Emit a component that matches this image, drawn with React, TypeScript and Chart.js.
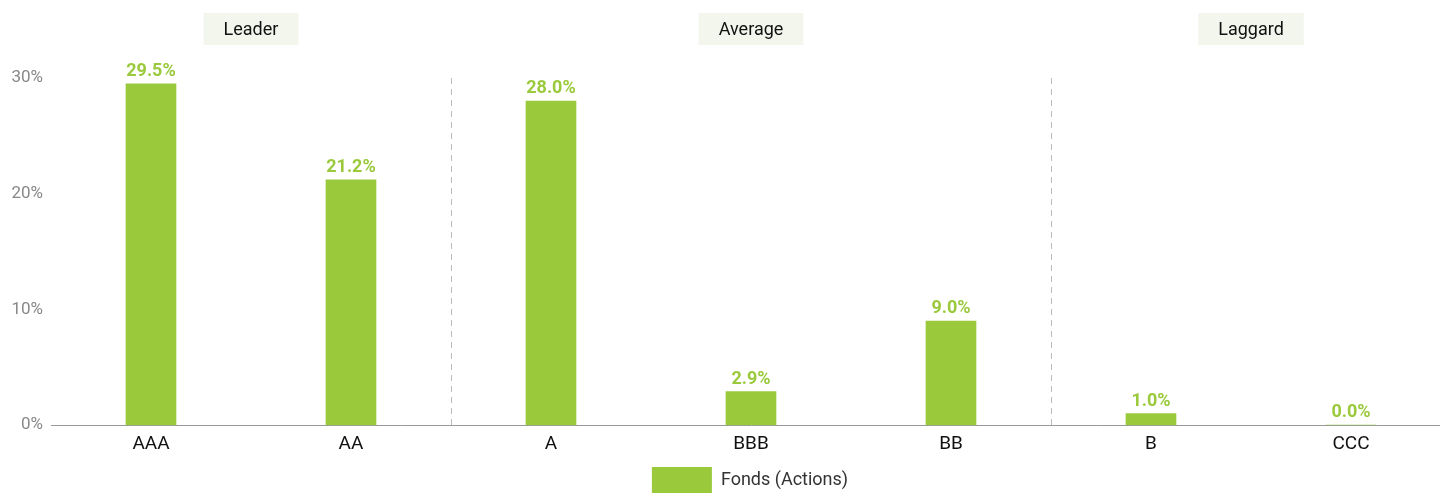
import React, { useEffect, useRef } from "react";
import { Chart, registerables } from "chart.js";

Chart.register(...registerables);

const categories = ["AAA", "AA", "A", "BBB", "BB", "B", "CCC"];
const fundValues = [29.5, 21.2, 28.0, 2.9, 9.0, 1.0, 0.0];
const seriesName = "Fonds (Actions)";
const groupLabels = ["Leader", "Average", "Laggard"];
const groupRanges = [[0, 1], [2, 4], [5, 6]];
const yTicks = [0, 10, 20, 30];

const GREEN = "#9ACA3C";
const FONT = "Roboto, sans-serif";

const overlay = {
  id: "overlay",
  afterDatasetsDraw(chart: any) {
    const { ctx, chartArea, scales } = chart;
    const x = scales.x;
    const y = scales.y;
    ctx.save();
    ctx.strokeStyle = "#bbbbbb";
    ctx.lineWidth = 1;
    ctx.setLineDash([6, 5]);
    for (let g = 0; g < groupRanges.length - 1; g++) {
      const a = x.getPixelForValue(groupRanges[g][1]);
      const b = x.getPixelForValue(groupRanges[g + 1][0]);
      const px = Math.round((a + b) / 2) + 0.5;
      ctx.beginPath();
      ctx.moveTo(px, chartArea.top);
      ctx.lineTo(px, chartArea.bottom);
      ctx.stroke();
    }
    ctx.setLineDash([]);
    ctx.font = "18px " + FONT;
    ctx.textAlign = "center";
    ctx.textBaseline = "middle";
    groupLabels.forEach((lab, g) => {
      const a = x.getPixelForValue(groupRanges[g][0]);
      const b = x.getPixelForValue(groupRanges[g][1]);
      const cx = (a + b) / 2;
      const w = ctx.measureText(lab).width + 40;
      ctx.fillStyle = "#f3f6ed";
      ctx.fillRect(cx - w / 2, 13, w, 32);
      ctx.fillStyle = "#111111";
      ctx.fillText(lab, cx, 30);
    });
    ctx.font = "bold 18px " + FONT;
    ctx.fillStyle = GREEN;
    ctx.textBaseline = "alphabetic";
    fundValues.forEach((v, i) => {
      const px = x.getPixelForValue(i);
      const py = y.getPixelForValue(v);
      ctx.fillText(v.toFixed(1) + "%", px, py - 8);
    });
    ctx.restore();
  },
};

export default function App() {
  const ref = useRef<HTMLCanvasElement>(null);
  useEffect(() => {
    const chart = new Chart(ref.current!, {
      type: "bar",
      data: {
        labels: categories,
        datasets: [
          {
            label: seriesName,
            data: fundValues,
            backgroundColor: GREEN,
            barThickness: 50,
          },
        ],
      },
      options: {
        animation: false,
        responsive: false,
        maintainAspectRatio: false,
        layout: { padding: { top: 78, right: 0, left: 0, bottom: 0 } },
        scales: {
          x: {
            grid: { display: false, drawTicks: false },
            border: { color: "#999999", width: 1 },
            ticks: { color: "#111111", font: { size: 19, family: FONT }, padding: 8 },
          },
          y: {
            min: 0,
            max: 30,
            afterBuildTicks(scale: any) {
              scale.ticks = yTicks.map((v) => ({ value: v }));
            },
            afterFit(scale: any) {
              scale.width = 51;
            },
            grid: { display: false, drawTicks: false },
            border: { display: false },
            ticks: {
              color: "#888888",
              font: { size: 17, family: FONT },
              padding: 8,
              callback: (v: any) => v + "%",
            },
          },
          yRight: {
            position: "right",
            min: 0,
            max: 30,
            afterFit(scale: any) {
              scale.width = 49;
            },
            grid: { display: false, drawTicks: false },
            border: { display: false },
            ticks: { display: false },
          },
        },
        plugins: {
          legend: {
            position: "bottom",
            labels: {
              boxWidth: 60,
              boxHeight: 26,
              color: "#333333",
              font: { size: 18, family: FONT },
              padding: 3,
            },
          },
          tooltip: { enabled: false },
        },
      },
      plugins: [overlay],
    });
    return () => chart.destroy();
  }, []);
  return (
    <div style={{ position: "absolute", left: 0, top: 0, width: 1440, height: 493, overflow: "hidden" }}>
      <canvas ref={ref} width={1500} height={503} />
    </div>
  );
}
